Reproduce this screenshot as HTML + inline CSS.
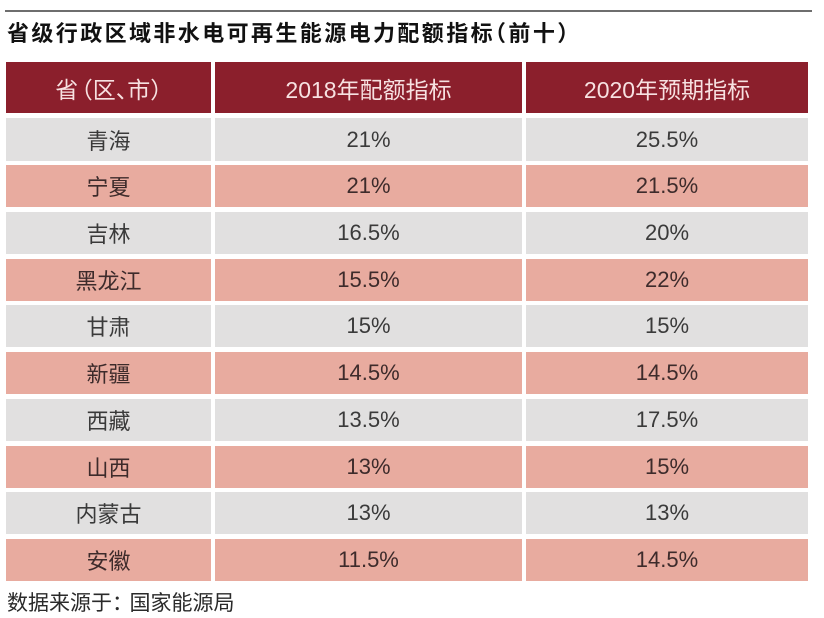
<!DOCTYPE html>
<html>
<head>
<meta charset="utf-8">
<style>
  html,body{margin:0;padding:0;background:#fff;}
  body{width:824px;height:618px;position:relative;overflow:hidden;
       font-family:"Liberation Sans","Noto Sans CJK SC",sans-serif;}
  .topline{position:absolute;left:5px;top:10px;width:807px;height:1.5px;background:#6e6e6e;}
  .title{position:absolute;left:7px;top:19px;height:30px;line-height:30px;
         font-size:22px;font-weight:bold;letter-spacing:2.4px;color:#111;white-space:nowrap;
         font-family:"Liberation Sans","Noto Sans CJK SC",sans-serif;}
  .halt{font-feature-settings:"halt";}
  .cell{position:absolute;display:flex;align-items:center;justify-content:center;
        white-space:nowrap;}
  .hdr{background:#8b1f2c;color:#f7e1e1;font-size:23px;}
  .g{background:#e1e0e0;color:#3a3a3a;font-size:22px;}
  .p{background:#e8ab9f;color:#3d2b2b;font-size:22px;}
  .c1{left:6px;width:205px;}
  .c2{left:215px;width:307px;}
  .c3{left:526px;width:282px;}
  .foot{position:absolute;left:7px;top:590px;font-size:21px;line-height:28px;color:#2a2a2a;white-space:nowrap;}
</style>
</head>
<body>
<div class="topline"></div>
<div class="title">省级行政区域非水电可再生能源电力配额指标<span class="halt">（</span>前十<span class="halt">）</span></div>

<div class="cell hdr c1" style="top:62px;height:51px;">省<span class="halt" style="margin-left:3px">（</span>区<span class="halt">、</span>市<span class="halt">）</span></div>
<div class="cell hdr c2" style="top:62px;height:51px;">2018年配额指标</div>
<div class="cell hdr c3" style="top:62px;height:51px;">2020年预期指标</div>

<div class="cell g c1" style="top:118px;height:43px;">青海</div>
<div class="cell g c2" style="top:118px;height:43px;">21%</div>
<div class="cell g c3" style="top:118px;height:43px;">25.5%</div>

<div class="cell p c1" style="top:165px;height:42px;">宁夏</div>
<div class="cell p c2" style="top:165px;height:42px;">21%</div>
<div class="cell p c3" style="top:165px;height:42px;">21.5%</div>

<div class="cell g c1" style="top:212px;height:42px;">吉林</div>
<div class="cell g c2" style="top:212px;height:42px;">16.5%</div>
<div class="cell g c3" style="top:212px;height:42px;">20%</div>

<div class="cell p c1" style="top:259px;height:42px;">黑龙江</div>
<div class="cell p c2" style="top:259px;height:42px;">15.5%</div>
<div class="cell p c3" style="top:259px;height:42px;">22%</div>

<div class="cell g c1" style="top:305px;height:42px;">甘肃</div>
<div class="cell g c2" style="top:305px;height:42px;">15%</div>
<div class="cell g c3" style="top:305px;height:42px;">15%</div>

<div class="cell p c1" style="top:352px;height:42px;">新疆</div>
<div class="cell p c2" style="top:352px;height:42px;">14.5%</div>
<div class="cell p c3" style="top:352px;height:42px;">14.5%</div>

<div class="cell g c1" style="top:399px;height:42px;">西藏</div>
<div class="cell g c2" style="top:399px;height:42px;">13.5%</div>
<div class="cell g c3" style="top:399px;height:42px;">17.5%</div>

<div class="cell p c1" style="top:446px;height:42px;">山西</div>
<div class="cell p c2" style="top:446px;height:42px;">13%</div>
<div class="cell p c3" style="top:446px;height:42px;">15%</div>

<div class="cell g c1" style="top:492px;height:42px;">内蒙古</div>
<div class="cell g c2" style="top:492px;height:42px;">13%</div>
<div class="cell g c3" style="top:492px;height:42px;">13%</div>

<div class="cell p c1" style="top:539px;height:42px;">安徽</div>
<div class="cell p c2" style="top:539px;height:42px;">11.5%</div>
<div class="cell p c3" style="top:539px;height:42px;">14.5%</div>

<div class="foot">数据来源于<span class="halt" style="margin-right:7px">：</span>国家能源局</div>
</body>
</html>
